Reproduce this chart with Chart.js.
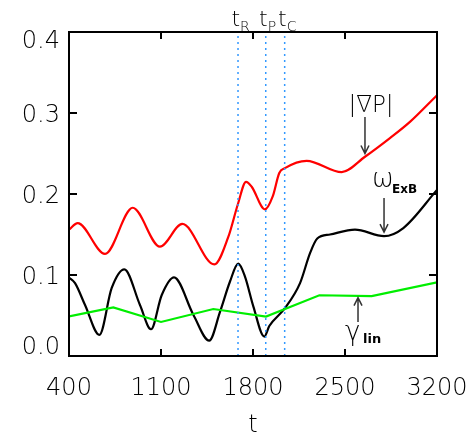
<!DOCTYPE html>
<html>
<head>
<meta charset="utf-8">
<script src="https://cdn.jsdelivr.net/npm/chart.js@4.4.1/dist/chart.umd.min.js"></script>
<style>
html, body { margin: 0; padding: 0; background: #fff; }
#wrap { width: 474px; height: 435px; }
</style>
</head>
<body>
<div id="wrap"><canvas id="c" width="474" height="435"></canvas></div>
<script>
// data
const xTicks = [400, 1100, 1800, 2500, 3200];
const yTicks = [0, 0.1, 0.2, 0.3, 0.4];

const gradPT = [400, 466, 674, 885, 1092, 1262, 1506, 1612, 1686, 1747, 1790, 1891, 1950, 2000, 2043, 2208, 2475, 2652, 2842, 2994, 3200];
const gradP  = [0.156, 0.164, 0.126, 0.183, 0.135, 0.163, 0.113, 0.147, 0.188, 0.215, 0.209, 0.181, 0.197, 0.226, 0.232, 0.241, 0.227, 0.246, 0.269, 0.289, 0.322];

const exbT = [400, 446, 522, 631, 725, 821, 940, 1024, 1105, 1199, 1346, 1467, 1550, 1625, 1688, 1739, 1803, 1886, 1924, 2043, 2158, 2234, 2289, 2386, 2576, 2797, 2944, 3200];
const exb  = [0.097, 0.090, 0.063, 0.026, 0.084, 0.107, 0.063, 0.033, 0.075, 0.097, 0.051, 0.019, 0.055, 0.092, 0.114, 0.098, 0.061, 0.024, 0.037, 0.059, 0.090, 0.127, 0.145, 0.150, 0.156, 0.148, 0.158, 0.205];

const gamT = [400, 737, 1100, 1498, 1899, 2305, 2703, 3200];
const gam  = [0.049, 0.060, 0.042, 0.058, 0.0486, 0.075, 0.074, 0.091];

const markT = [1686, 1897, 2041];
const markSub = ['R', 'P', 'C'];

const FONT = '"DejaVu Sans", sans-serif';

const pts = (T, V) => T.map((t, i) => ({ x: t, y: V[i] }));

const markSets = markT.map(t => ({
  data: [{ x: t, y: 0 }, { x: t, y: 0.4 }],
  borderColor: '#3399ff',
  borderWidth: 1.5,
  borderDash: [2, 4],
  pointRadius: 0,
  fill: false
}));

function arrow(ctx, x0, y0, x1, y1) {
  const dir = y1 > y0 ? 1 : -1;
  ctx.beginPath();
  ctx.moveTo(x0, y0); ctx.lineTo(x1, y1);
  ctx.moveTo(x1 - 4, y1 - dir * 8); ctx.lineTo(x1, y1); ctx.lineTo(x1 + 4, y1 - dir * 8);
  ctx.stroke();
}

const decor = {
  id: 'decor',
  afterDatasetsDraw(chart) {
    const { ctx, chartArea: a, scales: { x, y } } = chart;
    const P = (t, v) => [x.getPixelForValue(t), y.getPixelForValue(v)];
    ctx.save();

    // frame + inward ticks
    ctx.strokeStyle = '#000';
    ctx.lineWidth = 2;
    ctx.strokeRect(a.left, a.top, a.right - a.left, a.bottom - a.top);
    ctx.beginPath();
    xTicks.slice(1, -1).forEach(v => {
      const px = x.getPixelForValue(v);
      ctx.moveTo(px, a.bottom); ctx.lineTo(px, a.bottom - 7);
      ctx.moveTo(px, a.top); ctx.lineTo(px, a.top + 7);
    });
    yTicks.slice(1, -1).forEach(v => {
      const py = y.getPixelForValue(v);
      ctx.moveTo(a.left, py); ctx.lineTo(a.left + 8, py);
      ctx.moveTo(a.right, py); ctx.lineTo(a.right - 8, py);
    });
    ctx.stroke();

    // y tick labels
    ctx.fillStyle = '#000';
    ctx.font = '200 24px ' + FONT;
    ctx.textAlign = 'right';
    ctx.textBaseline = 'middle';
    yTicks.forEach((v, i) => {
      const off = i === 0 ? -8 : (i === yTicks.length - 1 ? 10 : 3);
      ctx.fillText(v.toFixed(1), a.left - 9, y.getPixelForValue(v) + off);
    });

    // t_R, t_P, t_C
    ctx.textBaseline = 'alphabetic';
    markT.forEach((t, i) => {
      const px = x.getPixelForValue(t);
      ctx.textAlign = 'right';
      ctx.font = '200 22px ' + FONT;
      ctx.fillText('t', px + 2, a.top - 6);
      ctx.textAlign = 'left';
      ctx.font = '200 14px ' + FONT;
      ctx.fillText(markSub[i], px + 2, a.top - 1);
    });

    // curve labels
    ctx.textAlign = 'center';
    ctx.font = '200 23px ' + FONT;
    let p = P(2698, 0.301);
    ctx.fillText('|\u2207P|', p[0], p[1]);

    ctx.textAlign = 'left';
    ctx.font = '200 26px ' + FONT;
    p = P(2705, 0.209);
    ctx.fillText('\u03c9', p[0], p[1]);
    ctx.font = 'bold 12px ' + FONT;
    p = P(2858, 0.201);
    ctx.fillText('ExB', p[0], p[1]);

    ctx.font = '200 26px ' + FONT;
    p = P(2500, 0.020);
    ctx.fillText('\u03b3', p[0], p[1]);
    ctx.font = 'bold 13px ' + FONT;
    p = P(2637, 0.016);
    ctx.fillText('lin', p[0], p[1]);

    // arrows
    ctx.strokeStyle = '#333';
    ctx.lineWidth = 1.5;
    let s = P(2652, 0.295), e = P(2652, 0.250);
    arrow(ctx, s[0], s[1], e[0], e[1]);
    s = P(2797, 0.195); e = P(2797, 0.153);
    arrow(ctx, s[0], s[1], e[0], e[1]);
    s = P(2599, 0.042); e = P(2599, 0.072);
    arrow(ctx, s[0], s[1], e[0], e[1]);

    ctx.restore();
  }
};

new Chart(document.getElementById('c').getContext('2d'), {
  type: 'line',
  data: {
    datasets: [
      ...markSets,
      { data: pts(gamT, gam), borderColor: '#00ee00', borderWidth: 2.2, pointRadius: 0, tension: 0, fill: false },
      { data: pts(exbT, exb), borderColor: '#000', borderWidth: 2.2, pointRadius: 0, cubicInterpolationMode: 'monotone', fill: false },
      { data: pts(gradPT, gradP), borderColor: '#ff0000', borderWidth: 2.2, pointRadius: 0, cubicInterpolationMode: 'monotone', fill: false }
    ]
  },
  options: {
    responsive: false,
    animation: false,
    events: [],
    layout: { padding: { top: 32, right: 37, left: 0, bottom: 0 } },
    plugins: { legend: { display: false }, tooltip: { enabled: false } },
    scales: {
      x: {
        type: 'linear',
        min: 400, max: 3200,
        afterBuildTicks: s => { s.ticks = xTicks.map(v => ({ value: v })); },
        afterFit: s => { s.height = 79; s.paddingLeft = 0; s.paddingRight = 0; },
        grid: { display: false, drawTicks: false },
        border: { display: false },
        ticks: { color: '#000', font: { family: FONT, size: 24, weight: 200 }, padding: 18, maxRotation: 0, autoSkip: false, callback: v => String(v) },
        title: { display: true, text: 't', color: '#000', font: { family: FONT, size: 24, weight: 200 }, padding: { top: 0, bottom: -5 } }
      },
      y: {
        min: 0, max: 0.4,
        afterBuildTicks: s => { s.ticks = yTicks.map(v => ({ value: v })); },
        afterFit: s => { s.width = 69; },
        grid: { display: false, drawTicks: false },
        border: { display: false },
        ticks: { display: false }
      }
    }
  },
  plugins: [decor]
});
</script>
</body>
</html>
